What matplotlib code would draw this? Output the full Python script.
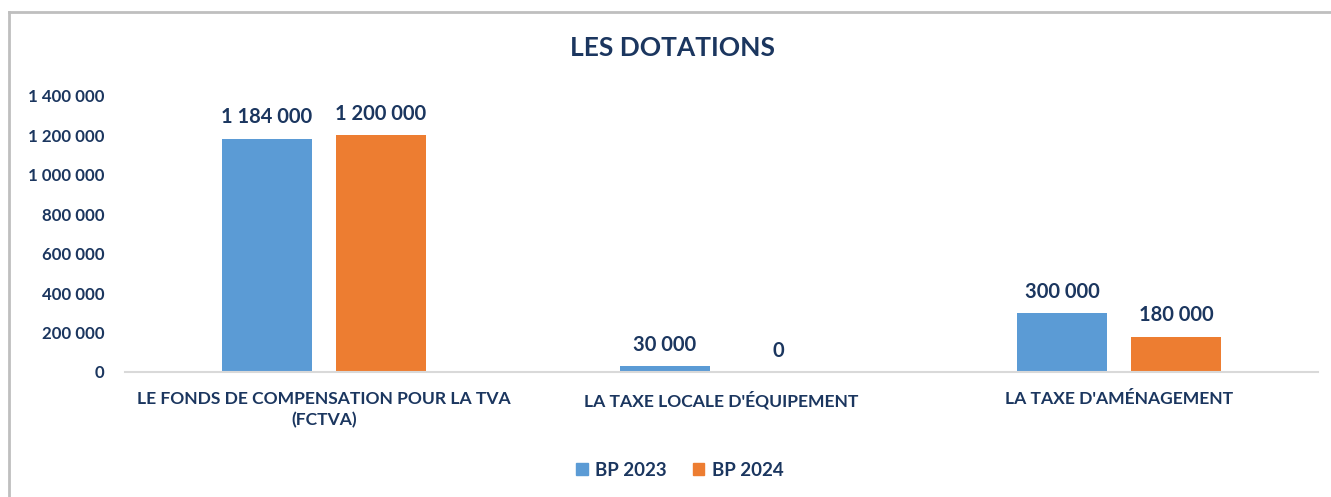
import matplotlib
matplotlib.use("Agg")
import matplotlib.pyplot as plt
from matplotlib.lines import Line2D
from matplotlib.patches import Patch
import numpy as np

categories = ["LE FONDS DE COMPENSATION POUR LA TVA\n(FCTVA)",
              "LA TAXE LOCALE D'ÉQUIPEMENT",
              "LA TAXE D'AMÉNAGEMENT"]
bp2023 = [1184000, 30000, 300000]
bp2024 = [1200000, 0, 180000]
series_names = ["BP 2023", "BP 2024"]
yticks = [0, 200000, 400000, 600000, 800000, 1000000, 1200000, 1400000]

NAVY = "#1B365F"
BLUE = "#5B9BD5"
ORANGE = "#ED7D31"
FONT = ["Lato", "DejaVu Sans"]
plt.rcParams['font.family'] = FONT

def fmt(v):
    return f"{int(v):,}".replace(",", " ")

W, H = 1331, 497
fig = plt.figure(figsize=(W/100, H/100), dpi=100)
ax = fig.add_axes([125/W, 1-372/H, (1318-125)/W, (372-96)/H])

x = np.arange(len(categories))
bw = 0.226
off = 0.143
b1 = ax.bar(x - off, bp2023, bw, color=BLUE, zorder=2)
b2 = ax.bar(x + off, bp2024, bw, color=ORANGE, zorder=2)

for bars, vals in ((b1, bp2023), (b2, bp2024)):
    for rect, v in zip(bars, vals):
        ax.annotate(fmt(v), (rect.get_x() + rect.get_width()/2, v),
                    xytext=(0, 8), textcoords="offset points",
                    ha="center", va="bottom", fontsize=14.5,
                    fontweight="bold", color=NAVY)

ax.set_xlim(-0.5, 2.5)
ax.set_ylim(0, 1400000)
ax.set_yticks(yticks)
ax.set_yticklabels([fmt(v) for v in yticks])
ax.set_xticks(x)
ax.set_xticklabels(categories, linespacing=1.35)
for lab in ax.get_yticklabels():
    lab.set_fontsize(12.2)
    lab.set_fontweight("bold")
    lab.set_color(NAVY)
for lab in ax.get_xticklabels():
    lab.set_fontsize(12.6)
    lab.set_fontweight("bold")
    lab.set_color(NAVY)
ax.tick_params(axis="both", length=0)
ax.tick_params(axis="y", pad=15)
ax.tick_params(axis="x", pad=14)
for s in ("top", "right", "left"):
    ax.spines[s].set_visible(False)
ax.spines["bottom"].set_color("#D9D9D9")
ax.spines["bottom"].set_linewidth(1.5)
ax.patch.set_alpha(0)

fig.text(673/W, 1-48/H, "LES DOTATIONS", ha="center", va="center",
         fontsize=19, fontweight="bold", color=NAVY)

handles = [Patch(color=BLUE), Patch(color=ORANGE)]
leg = fig.legend(handles, series_names, loc="center", bbox_to_anchor=(680/W, 1-470/H),
                 ncol=2, frameon=False, handlelength=0.6, handleheight=0.6,
                 handletextpad=0.4, columnspacing=1.4,
                 prop={"size": 13.5, "weight": "bold"})
for t in leg.get_texts():
    t.set_color(NAVY)

fig.add_artist(Line2D([9/W, 1], [1-12/H, 1-12/H], color="#BFBFBF", lw=2, transform=fig.transFigure))
fig.add_artist(Line2D([9/W, 9/W], [0, 1-12/H], color="#BFBFBF", lw=2, transform=fig.transFigure))

fig.savefig("out.png", dpi=100)
